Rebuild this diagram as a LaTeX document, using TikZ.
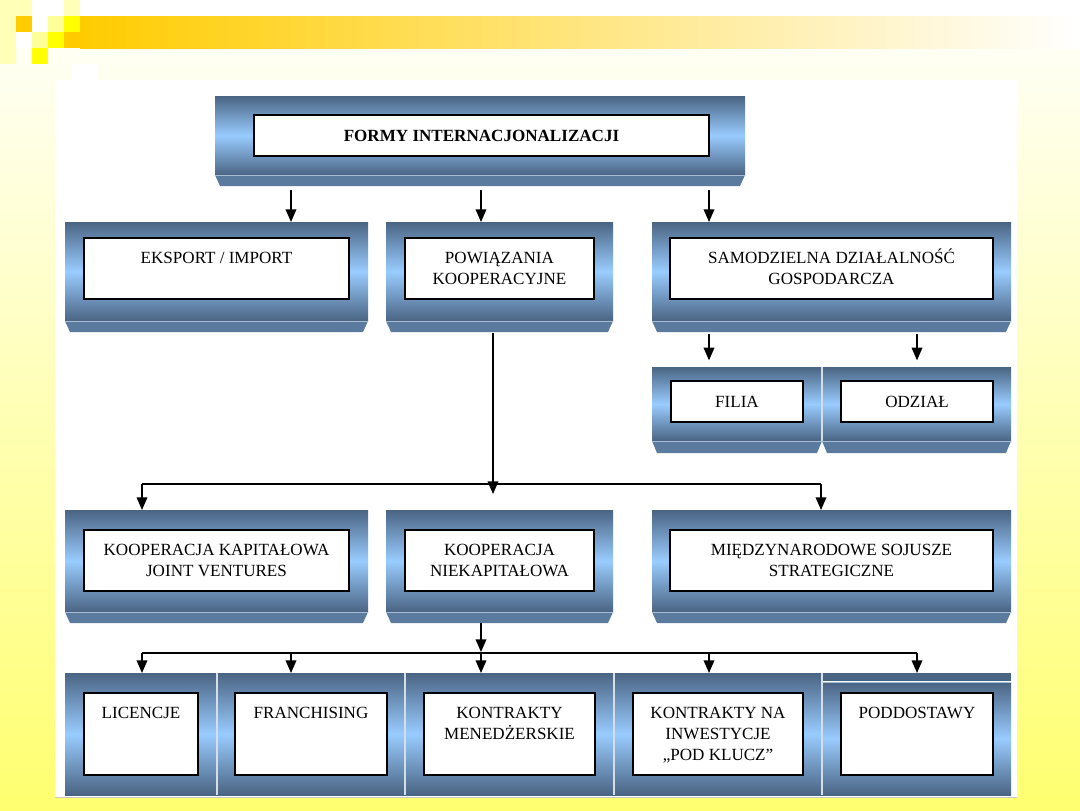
\documentclass[tikz,border=0pt]{standalone}
\usepackage{fontspec}
\setmainfont{Liberation Serif}
\usetikzlibrary{arrows.meta,calc,shadings}
\definecolor{dk}{HTML}{4A6483}
\definecolor{lt}{HTML}{99CCFF}
\definecolor{bev}{HTML}{5B7B9E}
\definecolor{bevln}{HTML}{A9BED4}
\definecolor{sepln}{HTML}{D5DDE6}
\definecolor{ylA}{HTML}{FFFFF4}
\definecolor{ylB}{HTML}{FFFF70}
\definecolor{orgA}{HTML}{FFCC00}
\definecolor{orgB}{HTML}{FFE070}
\definecolor{sqA}{HTML}{FFFF99}
\definecolor{sqB}{HTML}{FFFF00}
\definecolor{sqC}{HTML}{FFFFB8}
\definecolor{panelln}{HTML}{C8C8C8}
\newcommand{\ls}{\rule[-3.75pt]{0pt}{15.75pt}}
\newcommand{\mybody}[5]{\node[body,minimum width={(#4-#2)*0.75pt},minimum height={(#5-#3)*0.75pt}] (#1) at ({(#2+#4)/2},{(#3+#5)/2}) {};}
\newcommand{\mybevel}[2]{\fill[bev] (#1.south west) -- (#1.south east) -- ($(#1.south east)+(-5,#2)$) -- ($(#1.south west)+(5,#2)$) -- cycle;
  \draw[bevln,line width=0.75pt] (#1.south west) -- (#1.south east);}
\newcommand{\myinner}[6]{\node[inbox,minimum width={(#4-#2)*0.75pt},minimum height={(#5-#3)*0.75pt}] (#1) at ({(#2+#4)/2},{(#3+#5)/2}) {#6};}
\begin{document}
\begin{tikzpicture}[x=0.75pt,y=-0.75pt,
  body/.style={rectangle,inner sep=0pt,outer sep=0pt,top color=dk,bottom color=dk,middle color=lt},
  inbox/.style={rectangle,draw=black,line width=1pt,fill=white,inner sep=0pt,outer sep=0pt,align=center,font=\fontsize{12.8}{15.75}\selectfont},
  arr/.style={line width=1pt,-{Triangle[width=8pt,length=9.5pt]}},
  conn/.style={line width=1pt},
  divider/.style={sepln,line width=0.9pt}]
% ---------- background ----------
\useasboundingbox (0,0) rectangle (1080,810);
\fill[white] (0,0) rectangle (1080,810);
\shade[top color=ylA,bottom color=ylB] (0,48) rectangle (1080,810);
\shade[left color=orgA,middle color=orgB,right color=white] (80,16) rectangle (1080,48);
\fill[orgA] (64,32) rectangle (80,48);
\fill[sqC] (0,0) rectangle (16,64);
\fill[sqC] (16,0) rectangle (32,16);
\fill[orgA] (16,16) rectangle (32,32);
\fill[white] (32,16) rectangle (48,32);
\fill[sqA] (48,16) rectangle (64,32);
\fill[sqB] (64,16) rectangle (80,32);
\fill[sqC] (64,0) rectangle (80,16);
\fill[sqA] (32,32) rectangle (48,48);
\fill[sqB] (48,32) rectangle (64,48);
\fill[sqB] (32,48) rectangle (48,64);
\fill[white] (72,64) rectangle (98,80);
\fill[white] (55,80) rectangle (1017,797);
\draw[panelln,line width=1.2pt] (55,797.5) -- (1017,797.5);
% ---------- top ----------
\mybody{topb}{215}{96}{745}{175}
\mybevel{topb}{11}
\myinner{topi}{254}{115}{709}{156}{\bfseries\ls FORMY INTERNACJONALIZACJI}
% ---------- row 2 ----------
\mybody{A}{65}{222}{368}{321}
\mybevel{A}{11}
\myinner{Ai}{84}{238}{349}{299}{\ls EKSPORT / IMPORT\\\ls}
\mybody{B}{386}{222}{613}{321}
\mybevel{B}{11}
\myinner{Bi}{405}{238}{594}{299}{\ls POWIĄZANIA\\\ls KOOPERACYJNE}
\mybody{C}{652}{222}{1011}{321}
\mybevel{C}{11}
\myinner{Ci}{670}{238}{993}{299}{\ls SAMODZIELNA DZIAŁALNOŚĆ\\\ls GOSPODARCZA}
% ---------- row 3 ----------
\mybody{FIL}{652}{367}{822}{441}
\mybevel{FIL}{12}
\mybody{ODZ}{822}{367}{1011}{441}
\mybevel{ODZ}{12}
\draw[divider] (FIL.north east) -- (FIL.south east);
\myinner{FILi}{671}{381}{803}{422}{\ls FILIA}
\myinner{ODZi}{841}{381}{993}{422}{\ls ODZIAŁ}
% ---------- row 4 ----------
\mybody{D}{65}{510}{368}{612}
\mybevel{D}{11}
\myinner{Di}{84}{530}{349}{591}{\ls KOOPERACJA KAPITAŁOWA\\\ls JOINT VENTURES}
\mybody{E}{386}{510}{613}{612}
\mybevel{E}{11}
\myinner{Ei}{405}{530}{594}{591}{\ls KOOPERACJA\\\ls NIEKAPITAŁOWA}
\mybody{F}{652}{510}{1011}{612}
\mybevel{F}{11}
\myinner{Fi}{670}{530}{993}{591}{\ls MIĘDZYNARODOWE SOJUSZE\\\ls STRATEGICZNE}
% ---------- row 5 ----------
\mybody{L}{65}{673}{217}{795}
\mybody{FR}{217}{673}{405}{795}
\mybody{KM}{405}{673}{614}{795}
\mybody{KI}{614}{673}{822}{795}
\fill[dk] (822,673) rectangle (1011,681);
\mybody{P}{822}{682}{1011}{795}
\draw[bevln,line width=0.75pt] (P.north west) -- (P.north east);
\draw[divider] (L.north east) -- (L.south east);
\draw[divider] (FR.north east) -- (FR.south east);
\draw[divider] (KM.north east) -- (KM.south east);
\draw[divider] (KI.north east |- L.north) -- (KI.south east);
\myinner{Li}{84}{693}{198}{775}{\ls LICENCJE\\\ls\\\ls}
\myinner{FRi}{235}{693}{387}{775}{\ls FRANCHISING\\\ls\\\ls}
\myinner{KMi}{424}{693}{595}{775}{\ls KONTRAKTY\\\ls MENEDŻERSKIE\\\ls}
\myinner{KIi}{633}{693}{803}{775}{\ls KONTRAKTY NA\\\ls INWESTYCJE\\\ls „POD KLUCZ”}
\myinner{Pi}{841}{693}{993}{775}{\ls PODDOSTAWY\\\ls\\\ls}
% ---------- connectors ----------
\coordinate (t1) at (291,190);
\coordinate (t2) at (481,190);
\coordinate (t3) at (709,190);
\draw[arr] (t1) -- (t1 |- A.north);
\draw[arr] (t2) -- (t2 |- B.north);
\draw[arr] (t3) -- (t3 |- C.north);
\coordinate (c1) at (709,334);
\coordinate (c2) at (917,334);
\draw[arr,shorten >=5pt] (c1) -- (c1 |- FIL.north);
\draw[arr,shorten >=5pt] (c2) -- (c2 |- ODZ.north);
\coordinate (b0) at (493,333);
\coordinate (bus1) at (493,484);
\coordinate (bus1L) at (142,484);
\coordinate (bus1R) at (821,484);
\coordinate (b1tip) at (493,494);
\draw[arr] (b0) -- (b1tip);
\draw[conn] (bus1L) -- (bus1R);
\draw[arr] (bus1L) -- (bus1L |- D.north);
\draw[arr] (bus1R) -- (bus1R |- F.north);
\coordinate (e0) at (481,623);
\coordinate (bus2) at (481,653);
\coordinate (bus2L) at (142,653);
\coordinate (bus2R) at (917,653);
\coordinate (bus2a) at (291,653);
\coordinate (bus2b) at (709,653);
\draw[arr] (e0) -- ([yshift=0.75pt]bus2);
\draw[conn] (bus2L) -- (bus2R);
\draw[arr] (bus2L) -- (bus2L |- L.north);
\draw[arr] (bus2a) -- (bus2a |- FR.north);
\draw[arr] (bus2) -- (bus2 |- KM.north);
\draw[arr] (bus2b) -- (bus2b |- KI.north);
\draw[arr] (bus2R) -- (bus2R |- L.north);
\end{tikzpicture}
\end{document}
